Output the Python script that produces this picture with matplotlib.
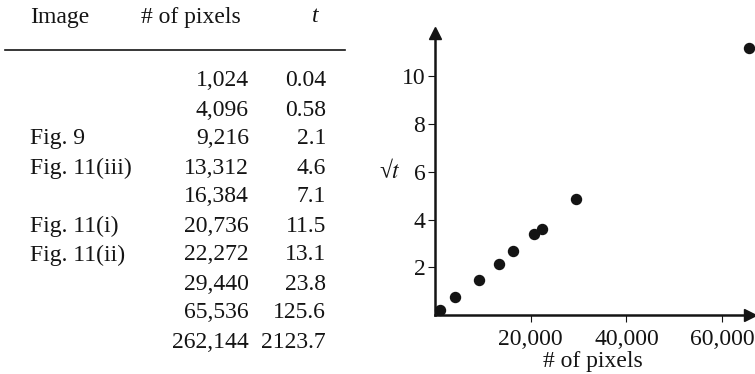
import numpy as np
import matplotlib
matplotlib.use("Agg")
from matplotlib import pyplot as plt

plt.rcParams['font.family'] = ['Liberation Serif', 'DejaVu Serif']
plt.rcParams['mathtext.fontset'] = 'stix'

# table data
images = ['', '', 'Fig. 9', 'Fig. 11(iii)', '', 'Fig. 11(i)', 'Fig. 11(ii)', '', '', '']
pixels = [1024, 4096, 9216, 13312, 16384, 20736, 22272, 29440, 65536, 262144]
times = ['0.04', '0.58', '2.1', '4.6', '7.1', '11.5', '13.1', '23.8', '125.6', '2123.7']

xticks = [20000, 40000, 60000]
yticks = [2, 4, 6, 8, 10]

W, H = 755, 374
fig = plt.figure(figsize=(W / 100, H / 100), dpi=100)

def fx(px):
    return px / W

def fy(py):
    return 1 - py / H

fs = 17
ink = '#141414'

# table header
fig.text(fx(30), fy(17), 'Image', fontsize=fs, va='center', ha='left', color=ink)
fig.text(fx(191), fy(17), '# of pixels', fontsize=fs, va='center', ha='center', color=ink)
fig.text(fx(315), fy(17), 't', fontsize=fs, style='italic', va='center', ha='center', color=ink)
fig.add_artist(plt.Line2D([fx(5), fx(345)], [fy(50), fy(50)], color=ink, lw=1.2))

# table rows
for i in range(len(pixels)):
    y = fy(81 + 29 * i)
    fig.text(fx(30), y, images[i], fontsize=fs, va='center', ha='left', color=ink)
    fig.text(fx(249), y, f'{pixels[i]:,}', fontsize=fs, va='center', ha='right', color=ink)
    fig.text(fx(326), y, times[i], fontsize=fs, va='center', ha='right', color=ink)

# scatter plot of sqrt(t), only what fits in the axes
ax = fig.add_axes([fx(435), fy(315), (750 - 435) / W, (315 - 33) / H])
px = np.array(pixels[:-1], dtype=float)
st = np.sqrt(np.array([float(t) for t in times[:-1]]))
ax.plot(px, st, 'o', color=ink, ms=7.2, clip_on=False)

ax.set_xlim(0, 65830)
ax.set_ylim(0, 11.82)
ax.set_xticks(xticks)
ax.set_xticklabels([f'{v:,}' for v in xticks])
ax.set_yticks(yticks)
ax.tick_params(labelsize=fs, length=5, width=0.8, colors=ink, pad=2)
ax.tick_params(axis='x', pad=5)
for s in ['top', 'right']:
    ax.spines[s].set_visible(False)
for s in ['left', 'bottom']:
    ax.spines[s].set_linewidth(1.8)
    ax.spines[s].set_color(ink)
ax.plot(1, 0, '>', color=ink, ms=9, transform=ax.get_yaxis_transform(), clip_on=False)
ax.plot(0, 1, '^', color=ink, ms=9, transform=ax.get_xaxis_transform(), clip_on=False)

ax.set_xlabel('# of pixels', fontsize=fs, color=ink, labelpad=1)
fig.text(fx(390), fy(171), '√$t$', fontsize=fs, va='center', ha='center', color=ink)

fig.savefig('out.png', dpi=100)
